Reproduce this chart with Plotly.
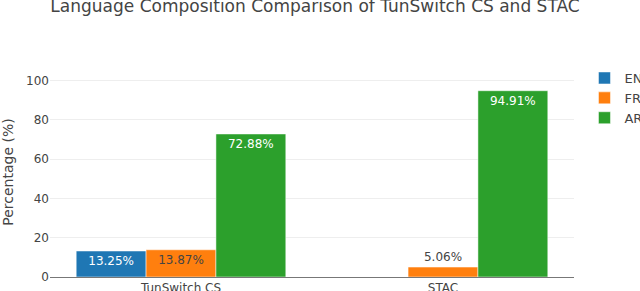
import plotly.graph_objects as go

categories = ["TunSwitch CS", "STAC"]
languages = ["EN", "FR", "AR"]
en_values = [13.25, None]
fr_values = [13.87, 5.06]
ar_values = [72.88, 94.91]
colors = ["#1f77b4", "#ff7f0e", "#2ca02c"]

FONT = "DejaVu Sans, Verdana, sans-serif"

fig = go.Figure()
for name, vals, col in zip(languages, [en_values, fr_values, ar_values], colors):
    fig.add_trace(go.Bar(
        x=categories, y=vals, name=name,
        marker=dict(color=col, line=dict(color="white", width=0.5)),
        text=[f"{v:.2f}%" if v is not None else "" for v in vals],
        textposition="auto",
        textfont=dict(size=12, family=FONT),
        cliponaxis=False,
    ))

fig.update_layout(
    width=640, height=291,
    template="plotly_white",
    font=dict(family=FONT, size=12, color="#444"),
    barmode="group", bargap=0.2, bargroupgap=0,
    margin=dict(l=50, r=66, t=67, b=14, autoexpand=False),
    title=dict(text="Language Composition Comparison of TunSwitch CS and STAC",
               font=dict(size=17, family=FONT, color="#444"),
               x=315/640, xanchor="center", xref="container",
               y=1 - 6/291, yanchor="middle", yref="container"),
    legend=dict(x=1.02, y=1.019, xanchor="left", yanchor="top",
                font=dict(size=13, family=FONT)),
    plot_bgcolor="white", paper_bgcolor="white",
)
fig.update_xaxes(showline=True, linecolor="#777", linewidth=1, showgrid=False,
                 ticks="", automargin=False, tickfont=dict(size=12))
fig.update_yaxes(range=[0, 107], tickvals=[0, 20, 40, 60, 80, 100],
                 showgrid=True, gridcolor="#eeeeee", zeroline=False,
                 automargin=False, tickfont=dict(size=12),
                 title=dict(text="Percentage (%)", font=dict(size=14), standoff=10))

fig.write_html("out.html", config={"displayModeBar": False},
               post_script="document.body.style.margin='0';")
